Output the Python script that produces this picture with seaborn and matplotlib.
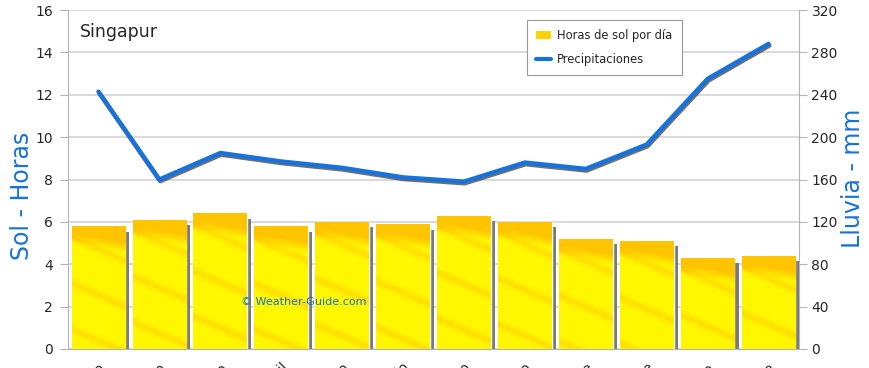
import numpy as np
import pandas as pd
import matplotlib
matplotlib.use("Agg")
import matplotlib.pyplot as plt
import matplotlib.patheffects as pe
from matplotlib.patches import Patch
from matplotlib.lines import Line2D
import seaborn as sns

months = ["Enero", "Febrero", "Marzo", "Abril", "Mayo", "Junio",
          "Julio", "Agosto", "Septiembre", "Octubre", "Noviembre", "Diciembre"]
sun_hours = [5.8, 6.1, 6.4, 5.8, 6.0, 5.9, 6.3, 6.0, 5.2, 5.1, 4.3, 4.4]
rain_mm = [243, 160, 185, 177, 171, 162, 158, 176, 170, 193, 255, 288]
sun_ticks = list(range(0, 17, 2))
rain_ticks = list(range(0, 321, 40))

BLUE = "#1872DC"
GRAY = "#b3b3b3"

sns.set_style("white")
plt.rcParams["font.family"] = ["DejaVu Sans"]

df = pd.DataFrame({"mes": months, "sol": sun_hours, "lluvia": rain_mm,
                   "pos": np.arange(len(months))})

fig = plt.figure(figsize=(8.7, 3.68), dpi=100)
ax = fig.add_axes([68 / 870, 19 / 368, 731 / 870, 339 / 368])

# bars (sun hours) with a grey drop shadow on the right
sns.barplot(data=df, x="mes", y="sol", color="#FFF500", saturation=1,
            width=0.88, ax=ax, zorder=2)

yellow = np.array([1.0, 0.97, 0.0])
orange = np.array([1.0, 0.72, 0.0])
for p in ax.patches:
    p.set_path_effects([pe.SimplePatchShadow(offset=(3, -4), shadow_rgbFace="#7a7a7a", alpha=1.0),
                        pe.Normal()])
    # yellow/orange texture clipped to the bar
    h = p.get_height()
    n = max(int(h * 21), 2)
    t = np.arange(n)[:, None]
    xs = np.linspace(0, 1, 40)[None, :]
    band = np.clip(1 - (t - 6 - 10 * xs) / 10.0, 0, 1) * 0.8
    streak = 0.35 * np.clip(np.sin(2 * np.pi * (t / 45.0 - xs * 0.5)), 0, 1) ** 6
    w = np.clip(band + streak, 0, 1)[..., None]
    img = yellow * (1 - w) + orange * w
    im = ax.imshow(img, extent=(p.get_x(), p.get_x() + p.get_width(), 0, h),
                   aspect="auto", zorder=3, interpolation="bilinear")
    im.set_clip_path(p)

ax.set_xlim(-0.5, len(months) - 0.5)
ax.set_ylim(0, 16)
ax.set_yticks(sun_ticks)
ax.yaxis.grid(True, color="#dadada", lw=1.5)
ax.set_axisbelow(True)
ax.set_xlabel("")
ax.set_ylabel("")

# rainfall line on the right axis
ax2 = ax.twinx()
sns.lineplot(data=df, x="pos", y="lluvia", ax=ax2, color=BLUE, lw=3.2,
             path_effects=[pe.SimpleLineShadow(offset=(0.6, -1.2), shadow_color="#333333", alpha=0.7),
                           pe.Normal()],
             solid_joinstyle="round", solid_capstyle="round")
ax2.set_ylim(0, 320)
ax2.set_yticks(rain_ticks)
ax2.set_ylabel("")
ax.set_xlim(-0.5, len(months) - 0.5)

# ticks
ax.set_xticks(range(len(months)))
ax.set_xticklabels(months, rotation=45, ha="right", rotation_mode="anchor", fontsize=10)
ax.set_xticks(np.arange(-0.5, len(months), 1), minor=True)
ax.tick_params(axis="x", which="major", length=0, pad=8)
ax.tick_params(axis="x", which="minor", length=5, color=GRAY, width=1)
ax.tick_params(axis="y", left=True, length=6, color=GRAY, pad=5, labelsize=10)
ax2.tick_params(axis="y", right=True, length=6, color=GRAY, pad=3, labelsize=10)

for s in ["left", "bottom"]:
    ax.spines[s].set_color(GRAY)
ax.spines["top"].set_visible(False)
ax.spines["right"].set_visible(False)
for s in ["top", "left", "bottom"]:
    ax2.spines[s].set_visible(False)
ax2.spines["right"].set_color(GRAY)

# texts
ax.text(0.016, 0.935, "Singapur", transform=ax.transAxes, fontsize=12.5,
        ha="left", va="center", zorder=6)
ax.text(0.323, 0.139, "© Weather-Guide.com", transform=ax.transAxes, fontsize=8,
        color=BLUE, ha="center", va="center", zorder=6)
fig.text(22 / 870, (368 - 196) / 368, "Sol - Horas", rotation=90, ha="center",
         va="center", fontsize=17, color=BLUE)
fig.text(853 / 870, (368 - 178) / 368, "Lluvia - mm", rotation=90, ha="center",
         va="center", fontsize=17, color=BLUE)

handles = [Patch(facecolor="#FFD200", edgecolor="none"),
           Line2D([], [], color=BLUE, lw=3)]
leg = ax2.legend(handles, ["Horas de sol por día", "Precipitaciones"],
                 loc="upper left", bbox_to_anchor=(0.628, 0.9705), borderaxespad=0,
                 frameon=True, fancybox=False, edgecolor="#999999", framealpha=1,
                 fontsize=8.3, borderpad=0.8, labelspacing=0.9, handlelength=1.3,
                 handletextpad=0.5)
leg.get_frame().set_linewidth(0.8)
leg.set_zorder(10)

fig.savefig("out.png", dpi=100)
